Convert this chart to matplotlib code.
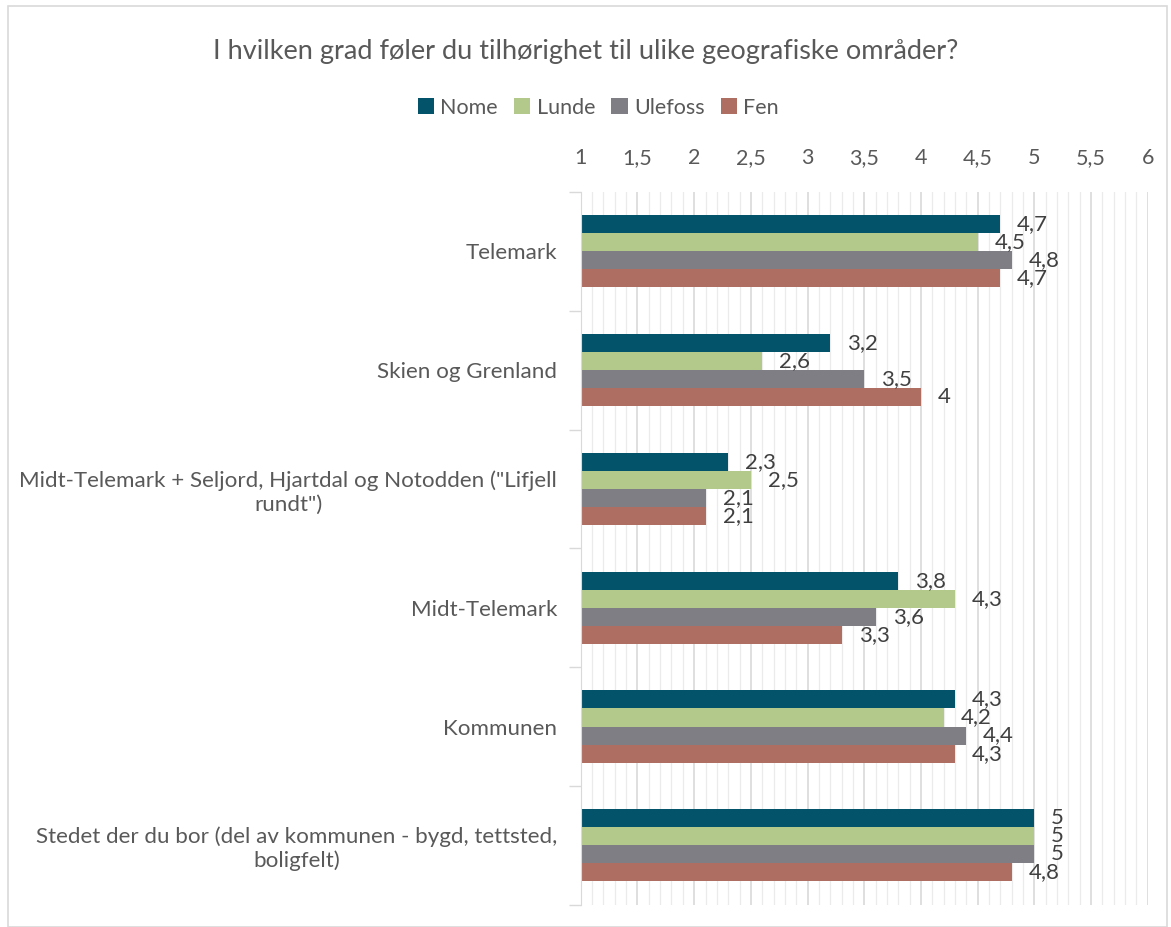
import matplotlib
matplotlib.use("Agg")
import matplotlib.pyplot as plt
from matplotlib.patches import Rectangle
import numpy as np

plt.rcParams['font.family'] = ['Lato', 'DejaVu Sans']

categories = ["Telemark", "Skien og Grenland",
              "Midt-Telemark + Seljord, Hjartdal og Notodden (\"Lifjell\nrundt\")",
              "Midt-Telemark", "Kommunen",
              "Stedet der du bor (del av kommunen - bygd, tettsted,\nboligfelt)"]
series = ["Nome", "Lunde", "Ulefoss", "Fen"]
nome = [4.7, 3.2, 2.3, 3.8, 4.3, 5]
lunde = [4.5, 2.6, 2.5, 4.3, 4.2, 5]
ulefoss = [4.8, 3.5, 2.1, 3.6, 4.4, 5]
fen = [4.7, 4.0, 2.1, 3.3, 4.3, 4.8]
colors = ["#03536B", "#B3C98B", "#7F7E84", "#AF6E62"]
xticks = [1, 1.5, 2, 2.5, 3, 3.5, 4, 4.5, 5, 5.5, 6]

fig = plt.figure(figsize=(11.71, 9.27), dpi=100)
fig.patches.append(Rectangle((0.007, 0.0), 0.99, 0.993, transform=fig.transFigure,
                             fill=False, edgecolor="#D9D9D9", lw=1.2))
ax = fig.add_axes([0.496, 0.024, 0.484, 0.769])

txtc = "#595959"
n = len(categories)
bh = 0.152
vals = [nome, lunde, ulefoss, fen]
ypos = np.arange(n)
for i, (name, v, c) in enumerate(zip(series, vals, colors)):
    y = ypos + (i - 1.5) * bh
    ax.barh(y, np.array(v) - 1, left=1, height=bh, color=c, label=name)
    for yy, val in zip(y, v):
        lab = f"{val:g}".replace(".", ",")
        ax.text(val + 0.15, yy, lab, va="center", ha="left", fontsize=16, color="#404040")

ax.set_xlim(1, 6)
ax.set_ylim(n - 0.5, -0.5)
ax.xaxis.tick_top()
ax.set_xticks(xticks)
ax.set_xticklabels([f"{t:g}".replace(".", ",") for t in xticks])
ax.set_xticks(np.arange(1, 6.001, 0.1), minor=True)
ax.tick_params(axis="x", which="both", length=0, labelsize=15.5, labelcolor=txtc, pad=17)
ax.grid(axis="x", which="major", color="#D9D9D9", lw=1.2)
ax.grid(axis="x", which="minor", color="#EBEBEB", lw=0.9)
ax.set_axisbelow(True)

ax.set_yticks(ypos)
ax.set_yticklabels(categories, ha="right", multialignment="center")
ax.tick_params(axis="y", which="major", length=0, labelsize=16.1, labelcolor=txtc, pad=17)
ax.set_yticks(np.arange(-0.5, n, 1), minor=True)
ax.tick_params(axis="y", which="minor", length=9, color="#D9D9D9", width=1)

for s in ["top", "right", "bottom"]:
    ax.spines[s].set_visible(False)
ax.spines["left"].set_color("#D9D9D9")

fig.text(0.5, 0.944, "I hvilken grad føler du tilhørighet til ulike geografiske områder?",
         ha="center", va="center", fontsize=19.5, color=txtc)
fig.legend(loc="center", bbox_to_anchor=(0.511, 0.884), ncol=4, frameon=False,
           fontsize=15.5, labelcolor=txtc, handlelength=0.75, handleheight=0.75,
           handletextpad=0.3, columnspacing=0.75)

fig.savefig("out.png", dpi=100)
